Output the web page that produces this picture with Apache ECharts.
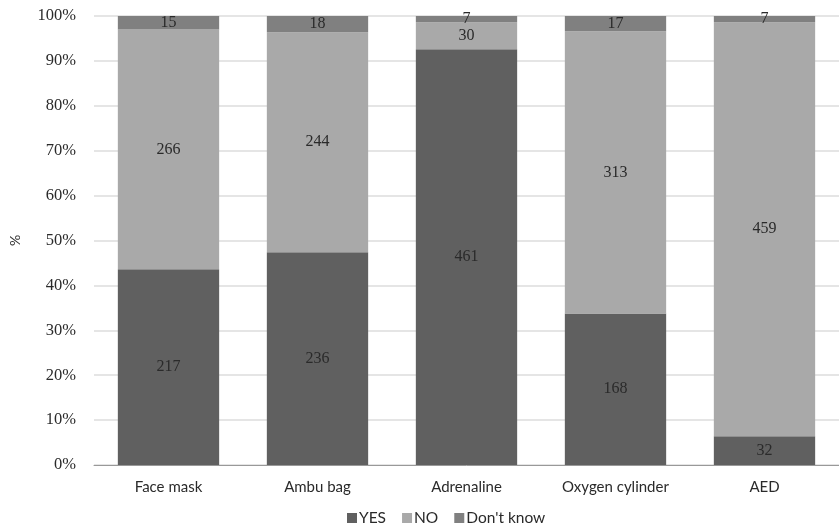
<!DOCTYPE html>
<html><head><meta charset="utf-8">
<script src="https://cdn.jsdelivr.net/npm/echarts@6/dist/echarts.min.js"></script>
<style>html,body{margin:0;padding:0;background:#fff}#c{width:839px;height:529px}</style>
</head><body><div id="c"></div>
<script>
const categories = ['Face mask','Ambu bag','Adrenaline','Oxygen cylinder','AED'];
const yesCounts = [217, 236, 461, 168, 32];
const noCounts = [266, 244, 30, 313, 459];
const dkCounts = [15, 18, 7, 17, 7];
const yTicks = [0,10,20,30,40,50,60,70,80,90,100];

const totals = categories.map((_, i) => yesCounts[i] + noCounts[i] + dkCounts[i]);
const pct = arr => arr.map((v, i) => ({ value: v / totals[i] * 100, count: v }));

const labelStyle = {
  show: true, position: 'inside', color: '#2a2a2a',
  fontFamily: 'Liberation Serif', fontSize: 16,
  formatter: p => p.data.count
};
function mk(name, arr, color) {
  return { name, type: 'bar', stack: 'a', barWidth: '68%', data: pct(arr),
    itemStyle: { color }, label: labelStyle, emphasis: { disabled: true } };
}
const chart = echarts.init(document.getElementById('c'));
chart.setOption({
  animation: false,
  grid: { left: 93, right: 0, top: 16, bottom: 64 },
  xAxis: { type: 'category', data: categories,
    axisLine: { lineStyle: { color: '#999' } }, axisTick: { show: false },
    axisLabel: { color: '#2a2a2a', fontFamily: 'Lato', fontSize: 15, margin: 15 } },
  yAxis: { type: 'value', min: 0, max: 100, interval: 10, name: '%',
    nameLocation: 'middle', nameGap: 72, nameRotate: 90,
    nameTextStyle: { color: '#333', fontFamily: 'Lato', fontSize: 14 },
    axisLabel: { color: '#2a2a2a', fontFamily: 'Liberation Serif', fontSize: 16.5, margin: 18,
      formatter: v => yTicks.includes(v) ? v + '%' : '' },
    splitLine: { lineStyle: { color: '#dcdcdc', width: 1.5 } } },
  legend: { bottom: -2, left: 342, itemWidth: 10, itemHeight: 10, itemGap: 16,
    icon: 'rect', textStyle: { color: '#2a2a2a', fontFamily: 'Lato', fontSize: 15.5, padding: [0,0,0,-3] } },
  series: [ mk('YES', yesCounts, '#606060'), mk('NO', noCounts, '#a9a9a9'), mk("Don't know", dkCounts, '#808080') ]
});
</script></body></html>
